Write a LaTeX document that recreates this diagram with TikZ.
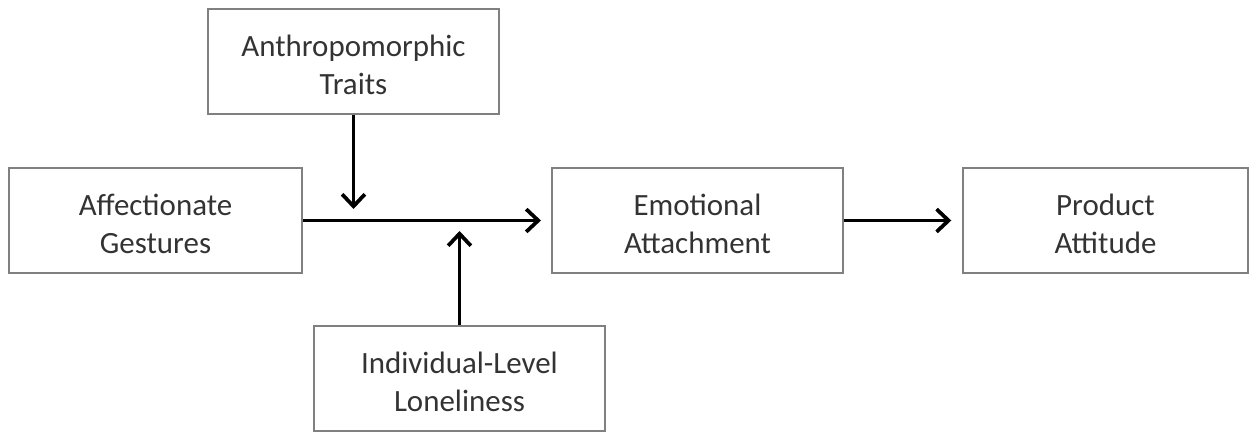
\documentclass[tikz,border=0pt]{standalone}
\usepackage{fontspec}
\setmainfont{Carlito}
\usetikzlibrary{arrows.meta}
\newcommand{\twol}[2]{\raisebox{0pt}[\dimexpr\height+9pt\relax][\depth]{\begin{tabular}{@{}c@{}}#1\\#2\end{tabular}}}
\begin{document}
\begin{tikzpicture}[x=0.75pt,y=-0.75pt,
  box/.style={draw=black!50,line width=1.6pt,rectangle,minimum height=78.75pt,
    align=center,inner sep=0pt,text=black!80,
    font=\fontsize{23.2pt}{28.5pt}\selectfont},
  arr/.style={line width=2.8pt,draw=black,
    -{Straight Barb[length=9pt,width=17pt,line width=2.8pt]}}]
\useasboundingbox (0,0) rectangle (1253,434);
\node[box,minimum width=219.75pt] (aff) at (155.5,220.5) {\twol{Affectionate}{Gestures}};
\node[box,minimum width=218.25pt] (anth) at (353.5,61.5) {\twol{Anthropomorphic}{Traits}};
\node[box,minimum width=218.25pt] (emo) at (697.5,220.5) {\twol{Emotional}{Attachment}};
\node[box,minimum width=213.75pt] (prod) at (1105.5,220.5) {\twol{Product}{Attitude}};
\node[box,minimum width=218.25pt] (lone) at (459.5,378.5) {\twol{Individual-Level}{Loneliness}};
\coordinate (dn) at (353.5,209);
\coordinate (up) at (459.5,231);
\draw[arr,shorten >=7.5pt] (aff) -- (emo);
\draw[arr,shorten >=8pt] (emo) -- (prod);
\draw[arr] (anth) -- (dn);
\draw[arr] (lone) -- (up);
\end{tikzpicture}
\end{document}
